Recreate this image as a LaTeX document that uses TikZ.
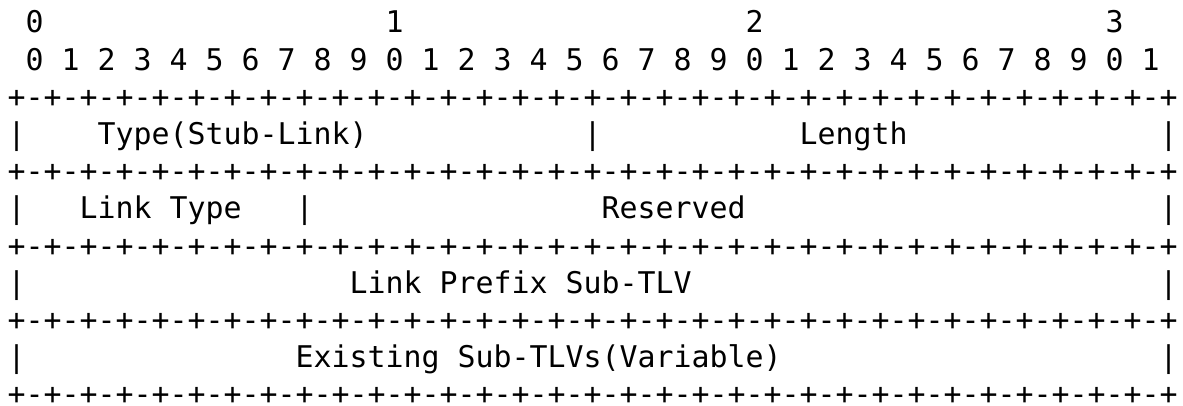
\documentclass[tikz,border=0pt]{standalone}
\usepackage{fontspec}
\setmonofont{DejaVu Sans Mono}
\begin{document}
% Packet layout drawn as fixed-pitch text: one column = 18pt, one line = 37.2pt
\tikzset{
  cell/.style={anchor=base west, inner sep=0pt, outer sep=0pt,
               text height=22pt, text depth=0pt,
               font=\ttfamily\fontsize{29.9}{37.2}\selectfont}
}
\newcommand\cellat[4]{\node[cell] (#1) at ({7.7+18*#2},{373-37.2*#3}) {#4};}
\newcommand\borderline{+-+-+-+-+-+-+-+-+-+-+-+-+-+-+-+-+-+-+-+-+-+-+-+-+-+-+-+-+-+-+-+-+}
\begin{tikzpicture}[x=1pt,y=1pt]
\useasboundingbox (0,0) rectangle (1183,406);
% bit ruler
\cellat{tens0}{1}{0}{0}
\cellat{tens1}{21}{0}{1}
\cellat{tens2}{41}{0}{2}
\cellat{tens3}{61}{0}{3}
\foreach \j in {0,...,31} {
  \pgfmathtruncatemacro\d{mod(\j,10)}
  \node[cell] (bit\j) at ({7.7+18*(1+2*\j)},{373-37.2}) {\d};
}
% borders
\cellat{rule0}{0}{2}{\borderline}
\cellat{rule1}{0}{4}{\borderline}
\cellat{rule2}{0}{6}{\borderline}
\cellat{rule3}{0}{8}{\borderline}
\cellat{rule4}{0}{10}{\borderline}
% word 1
\cellat{barA0}{0}{3}{|}
\cellat{type}{5}{3}{Type(Stub-Link)}
\cellat{barA1}{32}{3}{|}
\cellat{length}{44}{3}{Length}
\cellat{barA2}{64}{3}{|}
% word 2
\cellat{barB0}{0}{5}{|}
\cellat{linktype}{4}{5}{Link Type}
\cellat{barB1}{16}{5}{|}
\cellat{reserved}{33}{5}{Reserved}
\cellat{barB2}{64}{5}{|}
% word 3
\cellat{barC0}{0}{7}{|}
\cellat{prefix}{19}{7}{Link Prefix Sub-TLV}
\cellat{barC1}{64}{7}{|}
% word 4
\cellat{barD0}{0}{9}{|}
\cellat{existing}{16}{9}{Existing Sub-TLVs(Variable)}
\cellat{barD1}{64}{9}{|}
\end{tikzpicture}
\end{document}
